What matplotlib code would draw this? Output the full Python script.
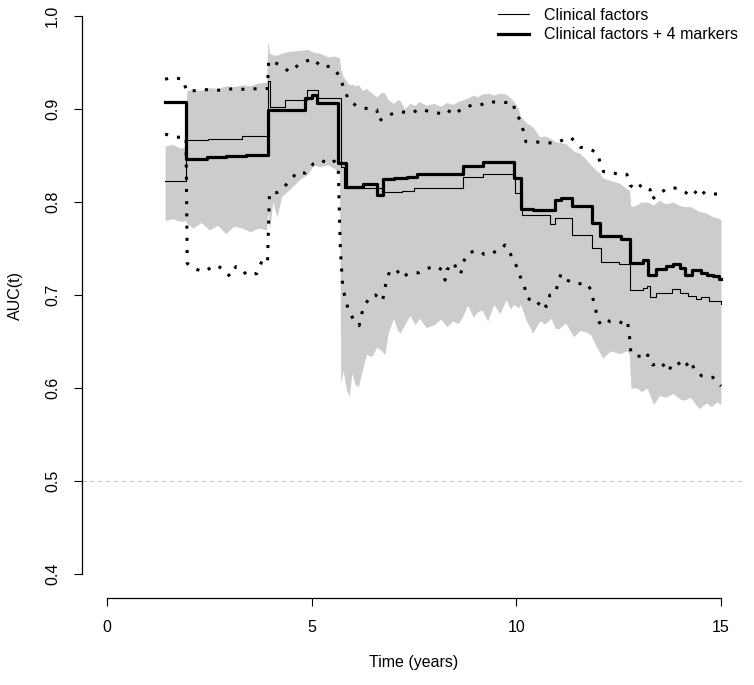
import matplotlib
matplotlib.use("Agg")
import matplotlib.pyplot as plt
import numpy as np

# ---------------- data ----------------
# grey band (pointwise CI, clinical factors)
band_t = [1.42, 1.6, 1.8, 1.92, 1.95, 2.1, 2.3, 2.5, 2.7, 2.9, 3.1, 3.3, 3.5, 3.7, 3.9,
          3.93, 3.97, 4.05, 4.15, 4.27, 4.45, 4.7, 4.9, 5.05, 5.2, 5.4, 5.55, 5.68,
          5.71, 5.77, 5.85, 5.92, 5.98, 6.06, 6.14, 6.24, 6.34, 6.47, 6.59, 6.7, 6.79,
          6.87, 7.0, 7.1, 7.16, 7.27, 7.4, 7.53, 7.63, 7.8, 7.99, 8.15, 8.3, 8.45, 8.58,
          8.7, 8.81, 8.95, 9.05, 9.16, 9.3, 9.45, 9.6, 9.75, 9.85, 9.94, 10.05, 10.1,
          10.25, 10.4, 10.57, 10.7, 10.85, 10.95, 11.05, 11.2, 11.4, 11.56, 11.72, 11.82,
          11.95, 12.04, 12.11, 12.3, 12.53, 12.7, 12.76, 12.8, 12.95, 13.05, 13.2, 13.35,
          13.5, 13.64, 13.83, 14.0, 14.11, 14.25, 14.46, 14.65, 14.76, 14.9, 15.0]
band_hi = [0.860, 0.862, 0.858, 0.860, 0.920, 0.921, 0.920, 0.923, 0.922, 0.925, 0.924,
           0.926, 0.925, 0.928, 0.929, 0.974, 0.960, 0.958, 0.958, 0.960, 0.962, 0.963,
           0.964, 0.961, 0.960, 0.956, 0.957, 0.955, 0.942, 0.935, 0.930, 0.926, 0.927,
           0.925, 0.926, 0.920, 0.922, 0.917, 0.913, 0.918, 0.917, 0.910, 0.906, 0.910,
           0.909, 0.900, 0.906, 0.904, 0.908, 0.904, 0.906, 0.903, 0.907, 0.905, 0.908,
           0.910, 0.912, 0.915, 0.913, 0.916, 0.917, 0.915, 0.917, 0.916, 0.912, 0.908,
           0.900, 0.892, 0.885, 0.881, 0.870, 0.871, 0.868, 0.865, 0.864, 0.863, 0.855,
           0.852, 0.845, 0.840, 0.834, 0.831, 0.826, 0.823, 0.820, 0.814, 0.813, 0.795,
           0.797, 0.800, 0.800, 0.797, 0.802, 0.798, 0.800, 0.796, 0.795, 0.795, 0.790,
           0.788, 0.785, 0.783, 0.781]
band_lo = [0.780, 0.782, 0.779, 0.780, 0.777, 0.772, 0.778, 0.770, 0.775, 0.766, 0.774,
           0.772, 0.768, 0.772, 0.770, 0.790, 0.770, 0.800, 0.784, 0.806, 0.813, 0.824,
           0.830, 0.840, 0.838, 0.840, 0.836, 0.832, 0.605, 0.619, 0.598, 0.591, 0.616,
           0.604, 0.601, 0.620, 0.636, 0.634, 0.644, 0.640, 0.636, 0.659, 0.675, 0.662,
           0.659, 0.668, 0.678, 0.668, 0.675, 0.665, 0.668, 0.674, 0.666, 0.672, 0.669,
           0.678, 0.689, 0.676, 0.682, 0.684, 0.672, 0.690, 0.680, 0.695, 0.685, 0.690,
           0.686, 0.690, 0.672, 0.659, 0.672, 0.669, 0.675, 0.664, 0.664, 0.670, 0.655,
           0.662, 0.660, 0.657, 0.645, 0.638, 0.632, 0.640, 0.637, 0.640, 0.636, 0.600,
           0.600, 0.596, 0.600, 0.582, 0.592, 0.590, 0.594, 0.588, 0.587, 0.590, 0.578,
           0.584, 0.580, 0.585, 0.582]

# dotted pointwise CI (clinical factors + 4 markers)
ci_hi_t = [1.42, 1.6, 1.85, 1.95, 2.2, 2.5, 2.8, 3.1, 3.4, 3.7, 3.92, 3.95, 4.1, 4.3, 4.45,
           4.7, 4.9, 5.04, 5.24, 5.45, 5.6, 5.69, 5.77, 5.9, 6.1, 6.42, 6.59, 6.65, 6.79,
           7.0, 7.2, 7.42, 7.65, 7.89, 8.18, 8.3, 8.5, 8.67, 8.91, 9.11, 9.32, 9.52, 9.72,
           9.92, 9.99, 10.09, 10.17, 10.23, 10.42, 10.7, 10.95, 11.15, 11.33, 11.56,
           11.84, 11.99, 12.04, 12.13, 12.33, 12.53, 12.7, 12.78, 12.94, 13.06, 13.27,
           13.3, 13.47, 13.67, 13.92, 14.12, 14.28, 14.47, 14.61, 14.81, 15.0]
ci_hi = [0.932, 0.934, 0.932, 0.919, 0.920, 0.921, 0.920, 0.922, 0.921, 0.922, 0.922,
         0.952, 0.950, 0.9455, 0.940, 0.948, 0.952, 0.954, 0.945, 0.946, 0.940, 0.935,
         0.924, 0.910, 0.903, 0.8997, 0.899, 0.887, 0.892, 0.8953, 0.897, 0.8953, 0.900,
         0.897, 0.895, 0.899, 0.894, 0.9007, 0.904, 0.904, 0.908, 0.9073, 0.907, 0.907,
         0.8935, 0.889, 0.8767, 0.865, 0.8647, 0.864, 0.863, 0.867, 0.8695, 0.859, 0.856,
         0.852, 0.8433, 0.8326, 0.832, 0.829, 0.8297, 0.818, 0.813, 0.819, 0.8133, 0.803,
         0.8075, 0.8147, 0.815, 0.8107, 0.806, 0.815, 0.8086, 0.8086, 0.8086]

ci_lo_t = [1.42, 1.7, 1.93, 1.96, 2.1, 2.35, 2.66, 2.88, 3.0, 3.15, 3.29, 3.41, 3.53, 3.66,
           3.78, 3.92, 3.97, 4.15, 4.31, 4.47, 4.67, 4.84, 5.04, 5.24, 5.41, 5.55, 5.65,
           5.7, 5.76, 5.83, 5.9, 6.02, 6.16, 6.22, 6.3, 6.44, 6.56, 6.73, 6.77, 6.82, 6.91,
           7.08, 7.18, 7.39, 7.63, 7.83, 8.05, 8.18, 8.26, 8.3, 8.48, 8.54, 8.64, 8.71,
           8.83, 9.01, 9.13, 9.21, 9.4, 9.52, 9.63, 9.72, 9.86, 9.99, 10.09, 10.2, 10.25,
           10.38, 10.51, 10.62, 10.73, 10.82, 10.95, 11.03, 11.09, 11.23, 11.48, 11.7,
           11.83, 11.88, 11.95, 12.03, 12.17, 12.29, 12.49, 12.62, 12.71, 12.75, 12.8,
           12.94, 13.06, 13.17, 13.21, 13.33, 13.53, 13.71, 13.8, 13.94, 14.06, 14.27,
           14.35, 14.53, 14.64, 14.8, 15.0]
ci_lo = [0.873, 0.8696, 0.870, 0.734, 0.729, 0.725, 0.732, 0.727, 0.720, 0.7305, 0.728,
         0.7215, 0.7226, 0.723, 0.736, 0.734, 0.810, 0.810, 0.815, 0.8237, 0.8326, 0.831,
         0.841, 0.845, 0.8405, 0.844, 0.8344, 0.750, 0.707, 0.6954, 0.683, 0.674, 0.667,
         0.6796, 0.6892, 0.699, 0.700, 0.6935, 0.7025, 0.7143, 0.726, 0.727, 0.719,
         0.7233, 0.724, 0.7287, 0.731, 0.727, 0.716, 0.727, 0.7347, 0.7265, 0.7226, 0.736,
         0.7455, 0.7473, 0.747, 0.7437, 0.744, 0.748, 0.749, 0.7538, 0.7437, 0.7323,
         0.7204, 0.709, 0.6975, 0.6935, 0.689, 0.6946, 0.6874, 0.700, 0.7018, 0.7143,
         0.7226, 0.716, 0.7118, 0.713, 0.7054, 0.6946, 0.682, 0.670, 0.675, 0.6713, 0.672,
         0.669, 0.672, 0.6624, 0.6373, 0.6344, 0.634, 0.631, 0.6355, 0.6247, 0.6283,
         0.6176, 0.6247, 0.6283, 0.621, 0.6295, 0.619, 0.613, 0.6115, 0.6115, 0.602]

# AUC(t) estimates
clin_t = [1.42, 1.93, 2.47, 3.3, 3.93, 3.98, 4.35, 4.88, 5.15, 5.72, 5.8, 6.72, 7.2, 7.5,
          8.7, 9.19, 9.96, 10.15, 10.82, 10.95, 11.35, 11.84, 12.06, 12.5, 12.78, 13.1,
          13.2, 13.27, 13.4, 13.8, 14.0, 14.2, 14.4, 14.5, 14.7, 15.0]
clin_auc = [0.823, 0.867, 0.868, 0.871, 0.930, 0.902, 0.910, 0.920, 0.912, 0.838, 0.815,
            0.811, 0.812, 0.815, 0.8265, 0.830, 0.810, 0.786, 0.776, 0.783, 0.765, 0.750,
            0.736, 0.733, 0.705, 0.708, 0.710, 0.698, 0.7025, 0.706, 0.702, 0.699, 0.696,
            0.698, 0.694, 0.690]

mark_t = [1.42, 1.93, 2.45, 2.9, 3.4, 3.93, 4.84, 5.0, 5.12, 5.64, 5.85, 6.25, 6.6, 6.75,
          7.0, 7.32, 7.57, 8.7, 9.19, 9.94, 10.12, 10.4, 10.95, 11.1, 11.35, 11.84, 12.05,
          12.55, 12.78, 13.1, 13.22, 13.4, 13.65, 13.83, 14.0, 14.12, 14.3, 14.5, 14.65,
          14.8, 14.95, 15.0]
mark_auc = [0.907, 0.846, 0.848, 0.849, 0.850, 0.899, 0.912, 0.915, 0.906, 0.842, 0.8165,
            0.819, 0.807, 0.825, 0.826, 0.827, 0.830, 0.839, 0.843, 0.826, 0.792, 0.791,
            0.802, 0.804, 0.796, 0.777, 0.763, 0.760, 0.734, 0.738, 0.722, 0.728, 0.731,
            0.733, 0.729, 0.7215, 0.727, 0.724, 0.722, 0.720, 0.717, 0.717]

labels = ["Clinical factors", "Clinical factors + 4 markers"]
x_ticks = [0, 5, 10, 15]
y_ticks = [0.4, 0.5, 0.6, 0.7, 0.8, 0.9, 1.0]
ref_level = 0.5

# ---------------- plot ----------------
plt.rcParams['font.family'] = ['Liberation Sans', 'DejaVu Sans']
W, H = 754, 685
fig = plt.figure(figsize=(W / 100, H / 100), dpi=100)

pxyr = 614 / 15.0
xl, xr = -0.6, 15.6
left_px = 107 - 0.6 * pxyr
right_px = 721 + 0.6 * pxyr
pxu = 930.0
ybot = 0.4 - 24 / pxu
ytop = 1.0 + 16 / pxu
ax = fig.add_axes([left_px / W, (H - 598) / H, (right_px - left_px) / W, 598 / H])
ax.set_xlim(xl, xr)
ax.set_ylim(ybot, ytop)

ax.fill_between(band_t, band_lo, band_hi, color="#cccccc", linewidth=0, zorder=1)
ax.axhline(ref_level, color="#c8c8c8", lw=0.72, linestyle=(0, (4, 4)), zorder=2)

dot = dict(color="black", lw=2.2, linestyle=(0, (1, 3)), dash_capstyle="butt", zorder=3)
ax.plot(ci_hi_t, ci_hi, **dot)
ax.plot(ci_lo_t, ci_lo, **dot)

ax.plot(clin_t, clin_auc, drawstyle="steps-post", color="black", lw=0.8, zorder=4,
        label=labels[0])
ax.plot(mark_t, mark_auc, drawstyle="steps-post", color="black", lw=2.3, zorder=5,
        label=labels[1])

for s in ["top", "right"]:
    ax.spines[s].set_visible(False)
ax.spines["left"].set_bounds(0.4, 1.0)
ax.spines["bottom"].set_bounds(0, 15)
for s in ["left", "bottom"]:
    ax.spines[s].set_linewidth(0.9)
ax.set_xticks(x_ticks)
ax.set_xticklabels([str(v) for v in x_ticks])
ax.set_yticks(y_ticks)
ax.set_yticklabels([f"{v:.1f}" for v in y_ticks], rotation=90, va="center")
ax.tick_params(axis="both", direction="out", length=6, width=0.8, labelsize=11.5)
ax.tick_params(axis="x", pad=10)
ax.tick_params(axis="y", pad=10)

fig.text(414 / W, 1 - 663 / H, "Time (years)", ha="center", va="center", fontsize=11.5)
fig.text(15 / W, 1 - 296 / H, "AUC(t)", ha="center", va="center", rotation=90,
         fontsize=11.5)

leg = ax.legend(loc="upper right", bbox_to_anchor=(738 / W, 1 - 8 / H),
                bbox_transform=fig.transFigure, frameon=False, fontsize=11.5,
                handlelength=1.92, handletextpad=0.96, labelspacing=0.26, borderpad=0,
                borderaxespad=0)

fig.savefig("out.png", dpi=100)
